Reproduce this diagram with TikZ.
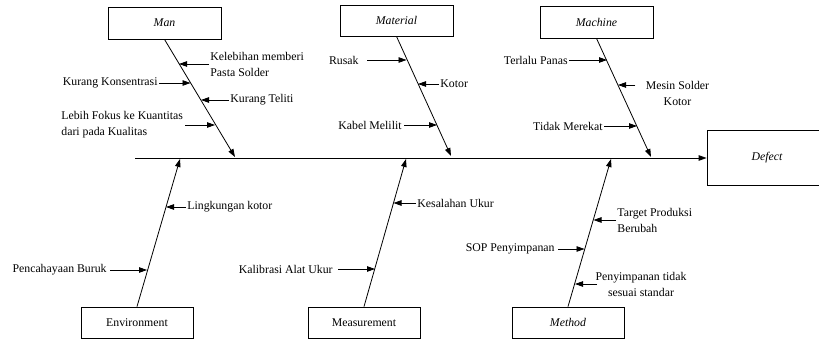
\documentclass[tikz,border=0pt]{standalone}
\usepackage{fontspec}
\setmainfont{Liberation Serif}
\usetikzlibrary{arrows.meta}

\begin{document}
\begin{tikzpicture}[x=1pt, y=-1pt, line width=0.8pt,
    box/.style={draw, minimum width=113pt, minimum height=32pt, inner sep=0pt,
        font=\fontsize{11.8}{16}\selectfont},
    cause/.style={inner sep=1pt, font=\fontsize{11.8}{16}\selectfont},
    arr/.style={-{Triangle[length=8pt, width=5.5pt]}}]
    \useasboundingbox (0,0) rectangle (819,339);

    % category boxes
    \node[box, font=\fontsize{11.8}{16}\selectfont\itshape] at (164.5, 23) (man) {Man};
    \node[box, minimum height=31pt, font=\fontsize{11.8}{16}\selectfont\itshape] at (396.5, 20.5) (material) {Material};
    \node[box, font=\fontsize{11.8}{16}\selectfont\itshape] at (596.5, 22) (machine) {Machine};
    \node[box, minimum width=112pt, minimum height=31pt] at (137, 322.5) (env) {Environment};
    \node[box, minimum width=112pt, minimum height=31pt] at (364, 322.5) (meas) {Measurement};
    \node[box, minimum width=112pt, minimum height=31pt, font=\fontsize{11.8}{16}\selectfont\itshape] at (568, 322.5) (method) {Method};
    \node[box, minimum width=120pt, minimum height=55pt, font=\fontsize{11.8}{16}\selectfont\itshape] at (767, 158) (defect) {Defect};

    % spine and bones
    \coordinate (tail) at (135, 158);
    \coordinate (manEnd) at (235, 157);
    \coordinate (materialEnd) at (451, 156);
    \coordinate (machineEnd) at (651, 157);
    \coordinate (envEnd) at (180, 159);
    \coordinate (measEnd) at (406, 159);
    \coordinate (methodEnd) at (611, 159);

    \draw[arr] (tail) -- (defect.west);
    \draw[arr] (man.south) -- (manEnd);
    \draw[arr] (material.south) -- (materialEnd);
    \draw[arr] (machine.south) -- (machineEnd);
    \draw[arr] (env.north) -- (envEnd);
    \draw[arr] (meas.north) -- (measEnd);
    \draw[arr] (method.north) -- (methodEnd);

    % causes: man
    \node[cause, anchor=west, align=left] at (209, 64) (kelebihan) {Kelebihan memberi\\Pasta Solder};
    \node[cause, anchor=east] at (159, 83) (konsentrasi) {Kurang Konsentrasi};
    \node[cause, anchor=west] at (229, 100) (teliti) {Kurang Teliti};
    \node[cause, anchor=west, align=left] at (60, 125) (fokus) {Lebih Fokus ke Kuantitas\\dari pada Kualitas};
    \coordinate (m1) at (179, 64);
    \coordinate (m2) at (190.5, 83);
    \coordinate (m3) at (201, 100);
    \coordinate (m4) at (215, 125);
    \draw[arr] (kelebihan.west) -- (m1);
    \draw[arr] (konsentrasi.east) -- (m2);
    \draw[arr] (teliti.west) -- (m3);
    \draw[arr] ([xshift=1pt]fokus.east) -- (m4);

    % causes: material
    \node[cause, anchor=east] at (360, 60) (rusak) {Rusak};
    \node[cause, anchor=west] at (439, 84) (kotor) {Kotor};
    \node[cause, anchor=east] at (403, 125) (kabel) {Kabel Melilit};
    \coordinate (a1) at (406.5, 60);
    \coordinate (a2) at (418, 84);
    \coordinate (a3) at (437, 125);
    \draw[arr] ([xshift=7pt]rusak.east) -- (a1);
    \draw[arr] (kotor.west) -- (a2);
    \draw[arr] ([xshift=1pt]kabel.east) -- (a3);

    % causes: machine
    \node[cause, anchor=east] at (569, 60) (panas) {Terlalu Panas};
    \node[cause, align=center] at (677.5, 93) (mesin) {Mesin Solder\\Kotor};
    \node[cause, anchor=east] at (604, 126) (merekat) {Tidak Merekat};
    \coordinate (c1) at (607, 60);
    \coordinate (c2) at (618, 85);
    \coordinate (c3) at (637, 126);
    \draw[arr] (panas.east) -- (c1);
    \draw[arr] ([xshift=-9pt]mesin.west |- c2) -- (c2);
    \draw[arr] (merekat.east) -- (c3);

    % causes: environment
    \node[cause, anchor=west] at (186, 207) (lingkungan) {Lingkungan kotor};
    \node[cause, anchor=east] at (108, 270) (cahaya) {Pencahayaan Buruk};
    \coordinate (e1) at (166, 207);
    \coordinate (e2) at (147, 270);
    \draw[arr] (lingkungan.west) -- (e1);
    \draw[arr] ([xshift=2pt]cahaya.east) -- (e2);

    % causes: measurement
    \node[cause, anchor=west] at (416, 203) (kesalahan) {Kesalahan Ukur};
    \node[cause, anchor=east] at (334, 269) (kalibrasi) {Kalibrasi Alat Ukur};
    \coordinate (u1) at (393.5, 203);
    \coordinate (u2) at (375, 269);
    \draw[arr] (kesalahan.west) -- (u1);
    \draw[arr] ([xshift=4pt]kalibrasi.east) -- (u2);

    % causes: method
    \node[cause, anchor=west, align=left] at (616, 220) (target) {Target Produksi\\Berubah};
    \node[cause, anchor=east] at (556, 249) (sop) {SOP Penyimpanan};
    \node[cause, align=center] at (641, 284) (simpan) {Penyimpanan tidak\\sesuai standar};
    \coordinate (t1) at (593.5, 220);
    \coordinate (t2) at (584.5, 249);
    \coordinate (t3) at (575, 284);
    \draw[arr] (target.west) -- (t1);
    \draw[arr] ([xshift=2pt]sop.east) -- (t2);
    \draw[arr] ([xshift=3pt]simpan.west) -- (t3);
\end{tikzpicture}
\end{document}
